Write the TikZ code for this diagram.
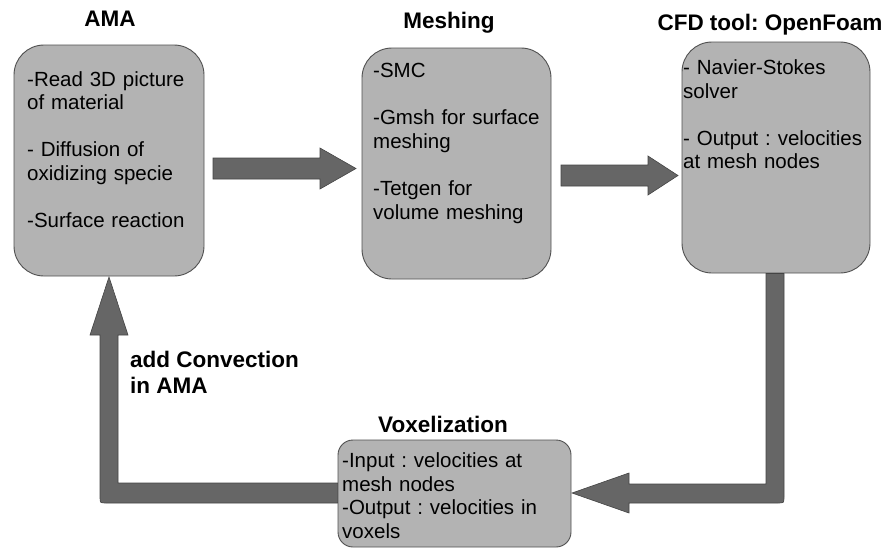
\documentclass[tikz,border=0pt]{standalone}
\usepackage{fontspec}
\setmainfont{Liberation Sans}
\usetikzlibrary{calc}
\definecolor{boxfill}{HTML}{B3B3B3}
\definecolor{boxline}{HTML}{505050}
\definecolor{arrfill}{HTML}{666666}
\definecolor{arrline}{HTML}{444444}
\tikzset{
  procbox/.style={draw=boxline, fill=boxfill, line width=0.9pt, rounded corners=30pt, inner sep=0pt},
  bodytext/.style={anchor=base west, align=left, inner sep=0pt, text width=230pt, font=\fontsize{20.5}{23.6}\selectfont\frenchspacing},
  titletext/.style={anchor=base, inner sep=0pt, font=\fontsize{22.5}{25.8}\selectfont\bfseries\frenchspacing},
  fatarrow/.style={fill=arrfill, draw=arrline, line width=0.6pt, line join=miter}
}
\begin{document}
\begin{tikzpicture}[x=1pt, y=-1pt]
\useasboundingbox (0,0) rectangle (888,549);

% boxes
\node[procbox, minimum width=190, minimum height=231] (ama) at (109,160.5) {};
\node[procbox, minimum width=189, minimum height=231] (mesh) at (456.5,163.5) {};
\node[procbox, minimum width=188, minimum height=231] (cfd) at (776,157.5) {};
\node[procbox, rounded corners=15pt, minimum width=233, minimum height=107] (vox) at (454.5,493.5) {};

% titles
\node[titletext] (tama) at (110,26) {AMA};
\node[titletext] (tmesh) at (449,28) {Meshing};
\node[titletext] (tcfd) at (770,30) {CFD tool: OpenFoam};
\node[titletext] (tvox) at (443,432) {Voxelization};
\node[titletext, anchor=base west, align=left] (tconv) at (130,393) {add Convection\\in AMA};

% box texts
\node[bodytext] (xama) at (27,86) {-Read 3D picture\\of material\\[23.6pt]- Diffusion of\\oxidizing specie\\[23.6pt]-Surface reaction};
\node[bodytext] (xmesh) at (373,77.5) {-SMC\\[23.6pt]-Gmsh for surface\\meshing\\[23.6pt]-Tetgen for\\volume meshing};
\node[bodytext] (xcfd) at (683,74.5) {- Navier-Stokes\\solver\\[23.6pt]- Output : velocities\\at mesh nodes};
\node[bodytext] (xvox) at (342,467.5) {-Input : velocities at\\mesh nodes\\-Output : velocities in\\voxels};

% arrow anchor coordinates
\coordinate (a1s) at (213,168.5);
\coordinate (a1t) at (356,168.5);
\coordinate (a2s) at (561,175.5);
\coordinate (a2t) at (678,175.5);
\coordinate (a3t) at (572,493);
\coordinate (a4t) at (109,277);

% AMA -> Meshing
\path[fatarrow] ($(a1s)+(0,-10.5)$) -- ($(a1t)+(-36,-10.5)$) -- ($(a1t)+(-36,-20.5)$) -- (a1t)
  -- ($(a1t)+(-36,20.5)$) -- ($(a1t)+(-36,10.5)$) -- ($(a1s)+(0,10.5)$) -- cycle;
% Meshing -> CFD
\path[fatarrow] ($(a2s)+(0,-10.5)$) -- ($(a2t)+(-30,-10.5)$) -- ($(a2t)+(-30,-19.5)$) -- (a2t)
  -- ($(a2t)+(-30,19.5)$) -- ($(a2t)+(-30,10.5)$) -- ($(a2s)+(0,10.5)$) -- cycle;
% CFD -> Voxelization
\path[fatarrow] ($(cfd.south)+(-10,0)$) -- ($(cfd.south)+(8,0)$) -- (784,497) .. controls (784,503) .. (778,503)
  -- ($(a3t)+(57,10)$) -- ($(a3t)+(57,20)$) -- (a3t) -- ($(a3t)+(57,-20)$) -- ($(a3t)+(57,-9)$)
  -- (766,484) -- cycle;
% Voxelization -> AMA
\path[fatarrow] (vox.west |- 0,483) -- (118,483) -- ($(a4t)+(9,58)$) -- ($(a4t)+(19,58)$) -- (a4t)
  -- ($(a4t)+(-19,58)$) -- ($(a4t)+(-9,58)$) -- (100,497) .. controls (100,503) .. (106,503)
  -- (vox.west |- 0,503) -- cycle;
\end{tikzpicture}
\end{document}
